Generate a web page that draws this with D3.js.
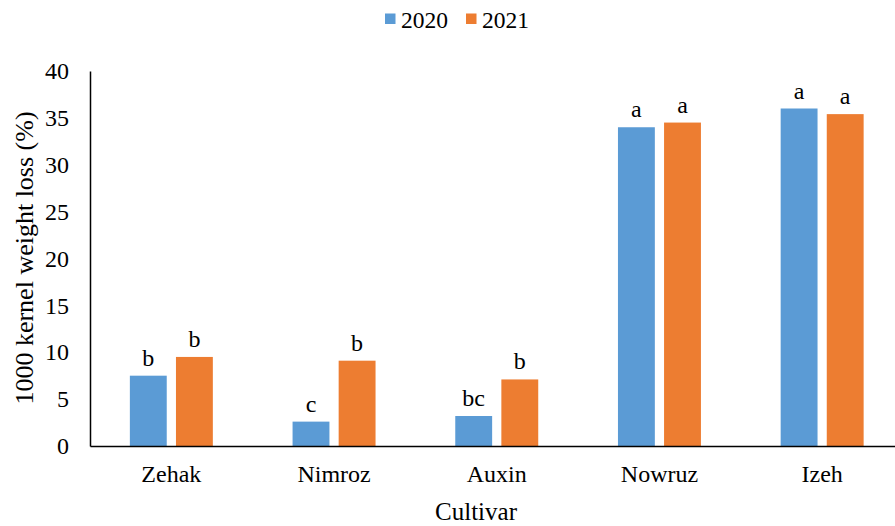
<!DOCTYPE html>
<html>
<head>
<meta charset="utf-8">
<script src="https://cdn.jsdelivr.net/npm/d3@7"></script>
<style>
  html, body { margin: 0; padding: 0; background: #fff; }
  svg { display: block; font-family: "Liberation Serif", "Times New Roman", serif; }
</style>
</head>
<body>
<svg id="chart" width="895" height="526"></svg>
<script>
// Cultivars on the x axis
const cultivars = ["Zehak", "Nimroz", "Auxin", "Nowruz", "Izeh"];
// Seasons shown as grouped bars
const years = ["2020", "2021"];
// 1000 kernel weight loss (%) per cultivar
const loss2020 = [7.5, 2.6, 3.2, 34.0, 36.0];
const loss2021 = [9.5, 9.1, 7.1, 34.5, 35.4];
// Mean-separation letters
const letters2020 = ["b", "c", "bc", "a", "a"];
const letters2021 = ["b", "b", "b", "a", "a"];
// Y axis ticks
const yTicks = [0, 5, 10, 15, 20, 25, 30, 35, 40];

const colors = { "2020": "#5B9BD5", "2021": "#ED7D31" };
const serif = "'Liberation Serif', 'Times New Roman', serif";

const svg = d3.select("#chart");

const x0 = d3.scaleBand()
  .domain(cultivars)
  .range([90, 903.5])
  .paddingInner(0.49)
  .paddingOuter(0.245);

const x1 = d3.scaleBand()
  .domain(years)
  .range([0, x0.bandwidth()])
  .paddingInner(0.2);

const y = d3.scaleLinear().domain([0, 40]).range([446, 71]);

const rows = [];
cultivars.forEach((c, i) => {
  rows.push({ cultivar: c, year: "2020", value: loss2020[i], letter: letters2020[i] });
  rows.push({ cultivar: c, year: "2021", value: loss2021[i], letter: letters2021[i] });
});

// Bars
svg.append("g").selectAll("rect")
  .data(rows)
  .join("rect")
  .attr("x", d => x0(d.cultivar) + x1(d.year))
  .attr("y", d => y(d.value))
  .attr("width", x1.bandwidth())
  .attr("height", d => y(0) - y(d.value))
  .attr("fill", d => colors[d.year]);

// Letters above bars
svg.append("g").selectAll("text")
  .data(rows)
  .join("text")
  .attr("x", d => x0(d.cultivar) + x1(d.year) + x1.bandwidth() / 2)
  .attr("y", d => y(d.value) - 10)
  .attr("text-anchor", "middle")
  .attr("font-size", 24)
  .attr("fill", "#000")
  .text(d => d.letter);

// Y axis
const yAxis = svg.append("g")
  .attr("transform", "translate(90,0)")
  .call(d3.axisLeft(y).tickValues(yTicks).tickSize(0).tickSizeOuter(0).tickPadding(21));
yAxis.select(".domain").attr("stroke", "#000").attr("stroke-width", 1.5);
yAxis.selectAll("text").attr("font-size", 24).attr("fill", "#000")
  .attr("font-family", serif);

// X axis
const xAxis = svg.append("g")
  .attr("transform", `translate(0,${y(0)})`)
  .call(d3.axisBottom(x0).tickSize(0).tickSizeOuter(0).tickPadding(19));
xAxis.select(".domain").attr("stroke", "#000").attr("stroke-width", 1.5);
xAxis.selectAll("text").attr("font-size", 24).attr("fill", "#000")
  .attr("font-family", serif);

// Axis titles
svg.append("text")
  .attr("x", 476)
  .attr("y", 520)
  .attr("text-anchor", "middle")
  .attr("font-size", 25)
  .attr("fill", "#000")
  .text("Cultivar");

svg.append("text")
  .attr("transform", "translate(33,258) rotate(-90)")
  .attr("text-anchor", "middle")
  .attr("font-size", 26)
  .attr("fill", "#000")
  .text("1000 kernel weight loss (%)");

// Legend
const legendX = [385, 466];
const legend = svg.append("g").selectAll("g")
  .data(years)
  .join("g")
  .attr("transform", (d, i) => `translate(${legendX[i]},0)`);
legend.append("rect")
  .attr("x", 0).attr("y", 13.5)
  .attr("width", 10.5).attr("height", 10.5)
  .attr("fill", d => colors[d]);
legend.append("text")
  .attr("x", 16).attr("y", 28)
  .attr("font-size", 23.5)
  .attr("fill", "#000")
  .text(d => d);
</script>
</body>
</html>
